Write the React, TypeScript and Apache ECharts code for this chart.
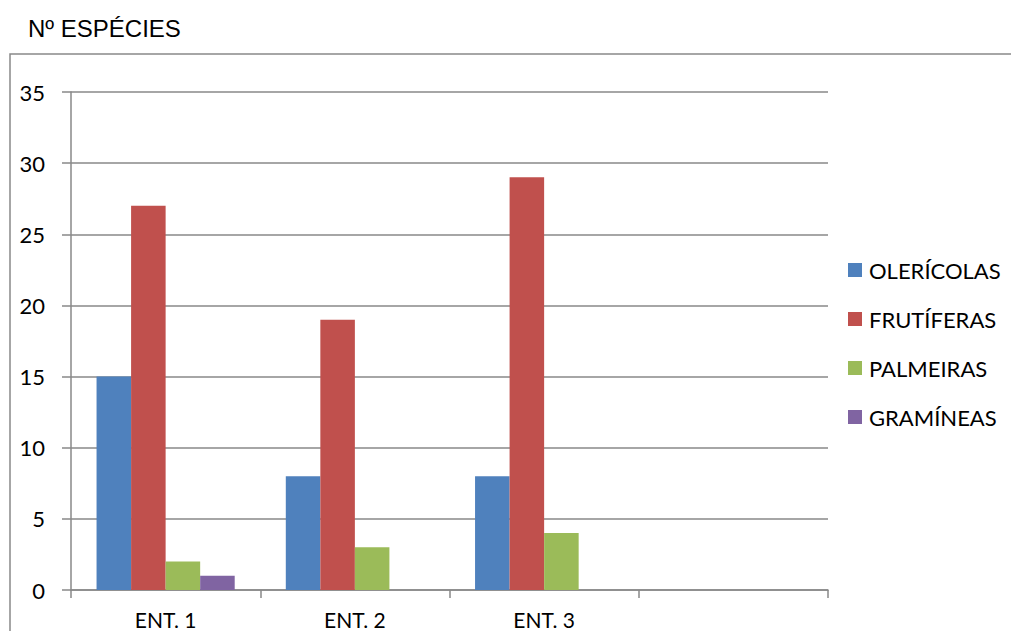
import React, { useEffect, useRef } from "react";
import * as echarts from "echarts";

const categories = ["ENT. 1", "ENT. 2", "ENT. 3", ""];
const seriesNames = ["OLERÍCOLAS", "FRUTÍFERAS", "PALMEIRAS", "GRAMÍNEAS"];
const olericolas = [15, 8, 8, null];
const frutiferas = [27, 19, 29, null];
const palmeiras = [2, 3, 4, null];
const gramineas = [1, 0, 0, null];
const colors = ["#4F81BD", "#C0504D", "#9BBB59", "#8064A2"];

const FONT = "Lato, 'Noto Sans', sans-serif";

export default function App() {
  const ref = useRef<HTMLDivElement>(null);
  useEffect(() => {
    if (!ref.current) return;
    const chart = echarts.init(ref.current, undefined, { renderer: "svg" });
    const values = [olericolas, frutiferas, palmeiras, gramineas];
    chart.setOption({
      animation: false,
      backgroundColor: "#fff",
      title: {
        text: "Nº ESPÉCIES",
        left: 23,
        top: 11,
        textStyle: { fontFamily: "'Liberation Sans', Arial, sans-serif", fontSize: 24, fontWeight: "normal", color: "#000" },
      },
      graphic: [
        {
          type: "rect",
          shape: { x: 10, y: 54, width: 1200, height: 800 },
          style: { fill: "none", stroke: "#898989", lineWidth: 1.5 },
          silent: true,
        },
      ],
      legend: {
        orient: "vertical",
        left: 843,
        top: 254,
        icon: "rect",
        itemWidth: 14,
        itemHeight: 14,
        itemGap: 27,
        textStyle: { fontFamily: FONT, fontSize: 22, color: "#000", padding: [0, 0, 0, 2] },
        data: seriesNames,
      },
      grid: { left: 71, right: 183, top: 92, bottom: 41, containLabel: false },
      xAxis: {
        type: "category",
        data: categories,
        axisLine: { show: true, lineStyle: { color: "#898989", width: 1.5 } },
        axisTick: { show: true, length: 8, alignWithLabel: false, lineStyle: { color: "#898989", width: 1.5 } },
        axisLabel: { fontFamily: FONT, fontSize: 21, color: "#000", margin: 19, interval: 0 },
        splitLine: { show: false },
      },
      yAxis: {
        type: "value",
        min: 0,
        max: 35,
        interval: 5,
        axisLine: { show: true, lineStyle: { color: "#898989", width: 1.5 } },
        axisTick: { show: true, length: 9, lineStyle: { color: "#898989", width: 1.5 } },
        axisLabel: { fontFamily: FONT, fontSize: 22, color: "#000", margin: 26 },
        splitLine: { show: true, lineStyle: { color: "#898989", width: 1.5 } },
      },
      series: seriesNames.map((name, i) => ({
        name,
        type: "bar",
        data: values[i],
        barGap: "0%",
        barCategoryGap: "27%",
        itemStyle: { color: colors[i] },
      })),
    });
    return () => chart.dispose();
  }, []);
  return (
    <div
      ref={ref}
      style={{ position: "fixed", left: 0, top: 0, width: 1011, height: 631 }}
    />
  );
}
